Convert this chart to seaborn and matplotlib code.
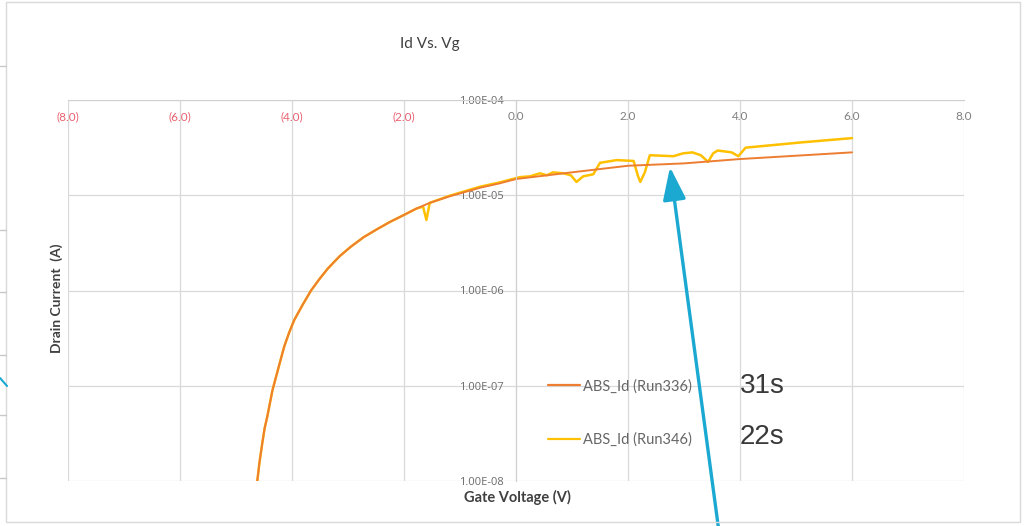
import numpy as np
import pandas as pd
import matplotlib.pyplot as plt
import seaborn as sns
from matplotlib.lines import Line2D
from matplotlib.patches import Rectangle, FancyArrowPatch
from matplotlib.ticker import NullLocator

# ============================================================
# VERİLER
# ============================================================

# Run336 - gate voltajı (V) ve drain akımı (A)
vg_336 = [-4.62, -4.58, -4.53, -4.49, -4.44, -4.35, -4.25, -4.14, -4.05, -3.96,
          -3.81, -3.66, -3.51, -3.36, -3.15, -2.95, -2.72, -2.49, -2.25, -2.01,
          -1.78, -1.54, -1.18, -0.64, -0.30, 0.0, 1.0, 2.0, 3.0, 4.0,
          5.0, 6.0]
id_336 = [1.0e-8, 1.58e-8, 2.51e-8, 3.55e-8, 4.79e-8, 8.91e-8, 1.48e-7, 2.57e-7, 3.63e-7, 4.9e-7,
          7.08e-7, 1.0e-6, 1.32e-6, 1.7e-6, 2.29e-6, 2.88e-6, 3.63e-6, 4.37e-6, 5.25e-6, 6.17e-6,
          7.24e-6, 8.32e-6, 9.77e-6, 1.2e-5, 1.33e-5, 1.48e-5, 1.74e-5, 2.04e-5, 2.16e-5, 2.4e-5,
          2.6e-5, 2.82e-5]

# Run346 - gate voltajı (V) ve drain akımı (A)
vg_346 = [-4.62, -4.58, -4.53, -4.49, -4.44, -4.35, -4.25, -4.14, -4.05, -3.96,
          -3.81, -3.66, -3.51, -3.36, -3.15, -2.95, -2.72, -2.49, -2.25, -2.01,
          -1.78, -1.66, -1.60, -1.54, -1.18, -0.64, -0.30, 0.07, 0.25, 0.43,
          0.55, 0.66, 0.85, 0.98, 1.08, 1.20, 1.38, 1.50, 1.80, 2.10,
          2.18, 2.22, 2.30, 2.39, 2.81, 2.98, 3.15, 3.30, 3.43, 3.52,
          3.60, 3.85, 3.97, 4.10, 5.10, 6.0]
id_346 = [1.0e-8, 1.58e-8, 2.51e-8, 3.55e-8, 4.79e-8, 8.91e-8, 1.48e-7, 2.57e-7, 3.63e-7, 4.9e-7,
          7.08e-7, 1.0e-6, 1.32e-6, 1.7e-6, 2.29e-6, 2.88e-6, 3.63e-6, 4.37e-6, 5.25e-6, 6.17e-6,
          7.24e-6, 7.6e-6, 5.5e-6, 8.32e-6, 9.9e-6, 1.23e-5, 1.36e-5, 1.55e-5, 1.58e-5, 1.7e-5,
          1.62e-5, 1.74e-5, 1.7e-5, 1.62e-5, 1.38e-5, 1.58e-5, 1.66e-5, 2.19e-5, 2.34e-5, 2.29e-5,
          1.58e-5, 1.38e-5, 1.74e-5, 2.63e-5, 2.57e-5, 2.75e-5, 2.82e-5, 2.63e-5, 2.24e-5, 2.75e-5,
          2.95e-5, 2.82e-5, 2.57e-5, 3.16e-5, 3.59e-5, 3.98e-5]

series_names = ["ABS_Id (Run336)", "ABS_Id (Run346)"]
series_colors = ["#ED7D31", "#FFC000"]
run_times = ["31s", "22s"]

x_ticks = [-8, -6, -4, -2, 0, 2, 4, 6, 8]
x_tick_labels = ["(8.0)", "(6.0)", "(4.0)", "(2.0)", "0.0", "2.0", "4.0", "6.0", "8.0"]
y_ticks = [1e-8, 1e-7, 1e-6, 1e-5, 1e-4]
y_tick_labels = ["1.00E-08", "1.00E-07", "1.00E-06", "1.00E-05", "1.00E-04"]

# seaborn için uzun formatta tablo
df = pd.concat([
    pd.DataFrame({"vg": vg_336, "id": id_336, "seri": series_names[0]}),
    pd.DataFrame({"vg": vg_346, "id": id_346, "seri": series_names[1]}),
], ignore_index=True)

# ============================================================
# GRAFİK
# ============================================================
sns.set_style("white")
plt.rcParams['font.family'] = ['Lato', 'DejaVu Sans']

W, H = 1024, 526
fig = plt.figure(figsize=(W / 100, H / 100), dpi=100)
ax = fig.add_axes([68 / W, 1 - 481 / H, (964 - 68) / W, (481 - 100) / H])

# sarı önce, turuncu üstte çiziliyor
sns.lineplot(data=df[df["seri"] == series_names[1]], x="vg", y="id",
             color=series_colors[1], estimator=None, sort=False,
             linewidth=1.8, ax=ax)
sns.lineplot(data=df[df["seri"] == series_names[0]], x="vg", y="id",
             color=series_colors[0], estimator=None, sort=False,
             linewidth=1.4, ax=ax)

ax.set_yscale("log")
ax.set_xlim(-8, 8)
ax.set_ylim(1e-8, 1e-4)
ax.yaxis.set_minor_locator(NullLocator())
ax.set_xlabel("")
ax.set_ylabel("")

# ızgara
ax.grid(True, color="#D9D9D9", linewidth=0.9)
ax.set_axisbelow(True)

# eksen çizgileri
ax.spines["right"].set_visible(False)
ax.spines["bottom"].set_visible(False)
ax.spines["top"].set_color("#D0D0D0")
ax.spines["left"].set_position(("data", 0))
ax.spines["left"].set_color("#D0D0D0")

# x etiketleri üstte, alan içinde
ax.set_xticks(x_ticks, labels=x_tick_labels)
ax.tick_params(axis="x", top=True, labeltop=True, bottom=False, labelbottom=False,
               length=0, pad=-16, labelsize=8.5, labelcolor="#7F7F7F")
for lbl in ax.get_xticklabels():
    if lbl.get_text().startswith("("):
        lbl.set_color("#E8606E")

ax.set_yticks(y_ticks, labels=y_tick_labels)
ax.tick_params(axis="y", length=0, pad=9, labelsize=8, labelcolor="#6A6A6A")
for lbl in ax.get_yticklabels():
    lbl.set_fontfamily("Open Sans")

# başlık ve eksen isimleri
fig.text(430 / W, 1 - 44 / H, "Id Vs. Vg", ha="center", va="center",
         fontsize=11, color="#404040")
fig.text(57 / W, 1 - 298 / H, "Drain Current  (A)", rotation=90, ha="center",
         va="center", fontsize=10, fontweight="bold", color="#404040")
fig.text(517 / W, 1 - 497 / H, "Gate Voltage (V)", ha="center", va="center",
         fontsize=10.5, fontweight="bold", color="#404040")

# lejant
handles = [Line2D([0], [0], color=c, lw=1.6) for c in series_colors]
ax.legend(handles, series_names, loc="center left",
          bbox_to_anchor=(548 / W, 1 - 413 / H), bbox_transform=fig.transFigure,
          frameon=False, fontsize=10.5, labelcolor="#666666", handlelength=2.2,
          handletextpad=0.2, labelspacing=2.7, borderpad=0, borderaxespad=0)

# süre notları
for t, yp in zip(run_times, [386, 437]):
    fig.text(740 / W, 1 - yp / H, t, ha="left", va="center", fontsize=20,
             family="Liberation Sans", color="#3A3A3A")

# mavi ok
arrow = FancyArrowPatch((719 / W, 1 - 532 / H), (670 / W, 1 - 167 / H),
                        transform=fig.transFigure,
                        arrowstyle="-|>,head_length=1.0,head_width=0.35",
                        mutation_scale=20, color="#1BA9D2", lw=2.4,
                        shrinkA=0, shrinkB=0)
fig.patches.append(arrow)

# çerçeve ve arka plandaki parçalar
fig.patches.append(Rectangle((6 / W, 1 - 522 / H), (1020 - 6) / W, (522 - 2) / H,
                             transform=fig.transFigure, fill=False,
                             edgecolor="#D9D9D9", lw=1))
for yp in [66, 230, 292, 355, 415, 478]:
    fig.lines.append(Line2D([0, 6 / W], [1 - yp / H, 1 - yp / H],
                            transform=fig.transFigure, color="#C8C8C8", lw=1))
fig.lines.append(Line2D([0, 7 / W], [1 - 378 / H, 1 - 386 / H],
                        transform=fig.transFigure, color="#1BA9D2", lw=1.5))

fig.savefig("out.png", dpi=100)
